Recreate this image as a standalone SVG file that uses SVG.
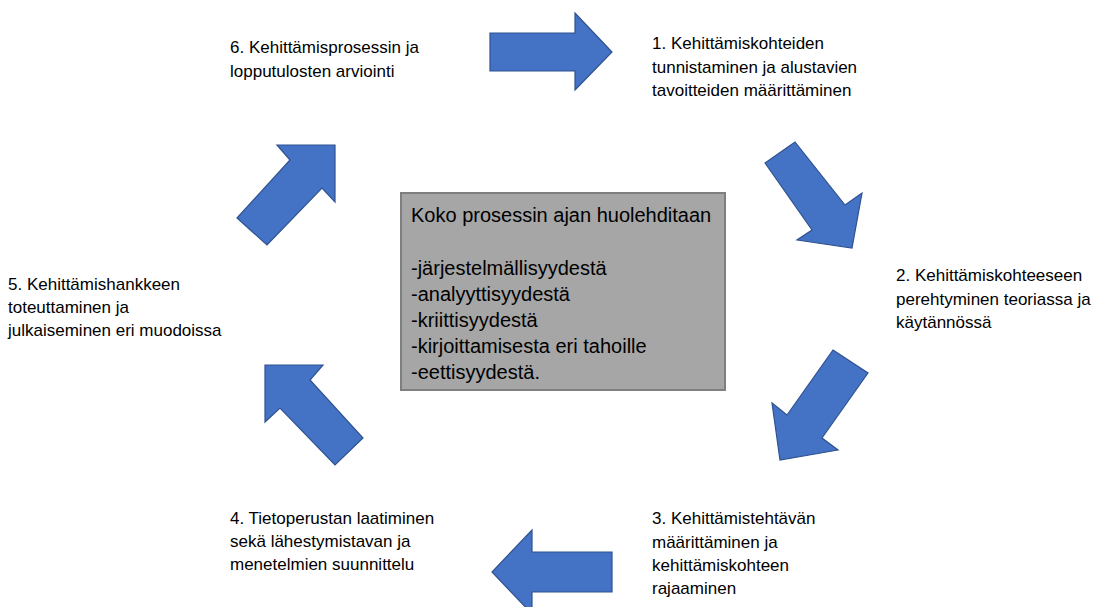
<svg xmlns="http://www.w3.org/2000/svg" width="1096" height="607" viewBox="0 0 1096 607">
<style>
.arr{fill:#4472C4;stroke:#2F528F;stroke-width:1.2;stroke-linejoin:miter}
.lbl{font-family:"Liberation Sans",Arial,sans-serif;font-size:17px;fill:#000}
.box{fill:#A6A6A6;stroke:#7F7F7F;stroke-width:2}
.btx{font-family:"Liberation Sans",Arial,sans-serif;font-size:20px;fill:#000}
</style>
<rect width="1096" height="607" fill="#fff"/>
<g id="connectors">
<polygon class="arr" points="490,33 575,33 575,13 612,52 575,90 575,71 490,71"/>
<polygon class="arr" points="765,163 795,142 845,205 862,193 852,248 797,240 812,230"/>
<polygon class="arr" points="833,350 868,373 822,438 838,450 780,460 772,403 787,415"/>
<polygon class="arr" points="612,552 532,552 532,530 492,572 532,614 532,592 612,592"/>
<polygon class="arr" points="265,365 323,365 310,380 363,438 335,465 280,408 265,422"/>
<polygon class="arr" points="237,218 290,160 277,145 335,145 335,202 322,188 267,245"/>
</g>
<g id="center">
<rect class="box" x="401" y="193" width="324" height="197"/>
<text class="btx" x="411" y="222">Koko prosessin ajan huolehditaan</text>
<text class="btx" x="411" y="275">-järjestelmällisyydestä</text>
<text class="btx" x="411" y="301">-analyyttisyydestä</text>
<text class="btx" x="411" y="327">-kriittisyydestä</text>
<text class="btx" x="411" y="353">-kirjoittamisesta eri tahoille</text>
<text class="btx" x="411" y="379">-eettisyydestä.</text>
</g>
<g id="step1">
<text class="lbl" x="652" y="49">1. Kehittämiskohteiden</text>
<text class="lbl" x="652" y="73">tunnistaminen ja alustavien</text>
<text class="lbl" x="652" y="96">tavoitteiden määrittäminen</text>
</g>
<g id="step2">
<text class="lbl" x="896" y="281">2. Kehittämiskohteeseen</text>
<text class="lbl" x="896" y="305">perehtyminen teoriassa ja</text>
<text class="lbl" x="896" y="328">käytännössä</text>
</g>
<g id="step3">
<text class="lbl" x="652" y="524">3. Kehittämistehtävän</text>
<text class="lbl" x="652" y="548">määrittäminen ja</text>
<text class="lbl" x="652" y="571">kehittämiskohteen</text>
<text class="lbl" x="652" y="594">rajaaminen</text>
</g>
<g id="step4">
<text class="lbl" x="230" y="524">4. Tietoperustan laatiminen</text>
<text class="lbl" x="230" y="547">sekä lähestymistavan ja</text>
<text class="lbl" x="230" y="570">menetelmien suunnittelu</text>
</g>
<g id="step5">
<text class="lbl" x="8" y="290">5. Kehittämishankkeen</text>
<text class="lbl" x="8" y="313">toteuttaminen ja</text>
<text class="lbl" x="8" y="336">julkaiseminen eri muodoissa</text>
</g>
<g id="step6">
<text class="lbl" x="230" y="53">6. Kehittämisprosessin ja</text>
<text class="lbl" x="230" y="77">lopputulosten arviointi</text>
</g>
</svg>
